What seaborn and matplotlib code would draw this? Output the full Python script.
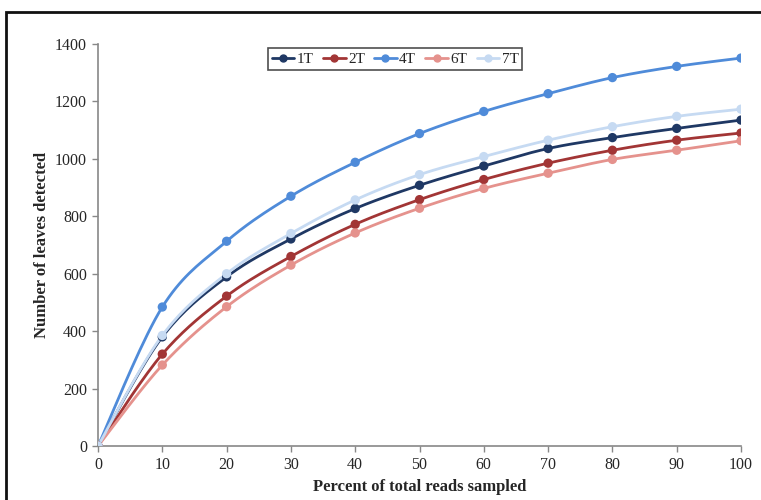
import numpy as np
import pandas as pd
import matplotlib
matplotlib.use("Agg")
import matplotlib.pyplot as plt
import seaborn as sns
from matplotlib.patches import Rectangle

percent = [0, 10, 20, 30, 40, 50, 60, 70, 80, 90, 100]
s1T = [0, 380, 589, 721, 827, 908, 975, 1036, 1074, 1106, 1135]
s2T = [0, 320, 522, 660, 772, 858, 928, 985, 1030, 1065, 1090]
s4T = [0, 484, 713, 870, 988, 1088, 1165, 1227, 1283, 1322, 1351]
s6T = [0, 282, 485, 630, 742, 828, 897, 950, 998, 1030, 1063]
s7T = [0, 385, 600, 740, 857, 945, 1008, 1065, 1112, 1148, 1173]
series_names = ["1T", "2T", "4T", "6T", "7T"]
colors = ["#1f3864", "#a23535", "#4f8bd9", "#e5928d", "#c6daf2"]
yticks = [0, 200, 400, 600, 800, 1000, 1200, 1400]
xticks = percent

sns.set_style("white")
plt.rcParams["font.family"] = ["Liberation Serif", "DejaVu Serif"]

def smooth(x, y, n=20):
    x = np.asarray(x, float); y = np.asarray(y, float)
    P = np.column_stack([x, y])
    out = []
    for i in range(len(P) - 1):
        p0 = P[i]; p3 = P[i + 1]
        pm = P[i - 1] if i > 0 else P[i]
        pp = P[i + 2] if i + 2 < len(P) else P[i + 1]
        c1 = p0 + (p3 - pm) / 6.0
        c2 = p3 - (pp - p0) / 6.0
        t = np.linspace(0, 1, n)[:, None]
        seg = (1 - t) ** 3 * p0 + 3 * (1 - t) ** 2 * t * c1 + 3 * (1 - t) * t ** 2 * c2 + t ** 3 * p3
        out.append(seg if i == 0 else seg[1:])
    out = np.vstack(out)
    return out[:, 0], out[:, 1]

fig = plt.figure(figsize=(7.61, 5.0), dpi=100)
ax = fig.add_axes([98 / 761, 1 - 446 / 500, (741 - 98) / 761, (446 - 44) / 500])

all_vals = [s1T, s2T, s4T, s6T, s7T]
rows = []
for name, vals in zip(series_names, all_vals):
    for p, v in zip(percent, vals):
        rows.append({"percent": p, "count": v, "series": name})
df = pd.DataFrame(rows)

handles = []
for name, vals, c in zip(series_names, all_vals, colors):
    sx, sy = smooth(percent, vals)
    sns.lineplot(x=sx, y=sy, ax=ax, color=c, lw=2.0, sort=False, zorder=2)
for name, vals, c in zip(series_names, all_vals, colors):
    sub = df[df.series == name]
    sns.scatterplot(data=sub, x="percent", y="count", ax=ax, color=c, s=45,
                    edgecolor="none", zorder=3, legend=False)
    handles.append(plt.Line2D([0], [0], color=c, lw=2.0, marker="o", markersize=5, label=name))

ax.set_xlim(0, 100)
ax.set_ylim(0, 1400)
ax.set_xticks(xticks)
ax.set_yticks(yticks)
ax.tick_params(axis="both", labelsize=11.5, length=4, width=1, color="#888888",
               direction="out", bottom=True, left=True, pad=4)
for sp in ["top", "right"]:
    ax.spines[sp].set_visible(False)
for sp in ["left", "bottom"]:
    ax.spines[sp].set_color("#888888")
    ax.spines[sp].set_linewidth(1.2)
ax.set_xlabel("Percent of total reads sampled", fontsize=12, fontweight="bold", labelpad=4)
ax.set_ylabel("Number of leaves detected", fontsize=12, fontweight="bold")
ax.yaxis.set_label_coords(-0.074, 0.5)
ax.grid(False)

leg = ax.legend(handles=handles, loc="upper center", bbox_to_anchor=(0.462, 1.008), ncol=5,
                frameon=True, fontsize=11, handlelength=1.5, handletextpad=0.15,
                columnspacing=0.6, borderpad=0.25, fancybox=False)
leg.get_frame().set_edgecolor("#222222")
leg.get_frame().set_linewidth(1.2)

fig.patches.append(Rectangle((6 / 761, -0.1), 1.2, 1 - 12 / 500 + 0.1, transform=fig.transFigure,
                             fill=False, edgecolor="#111111", lw=2.0))

fig.savefig("out.png", dpi=100)
